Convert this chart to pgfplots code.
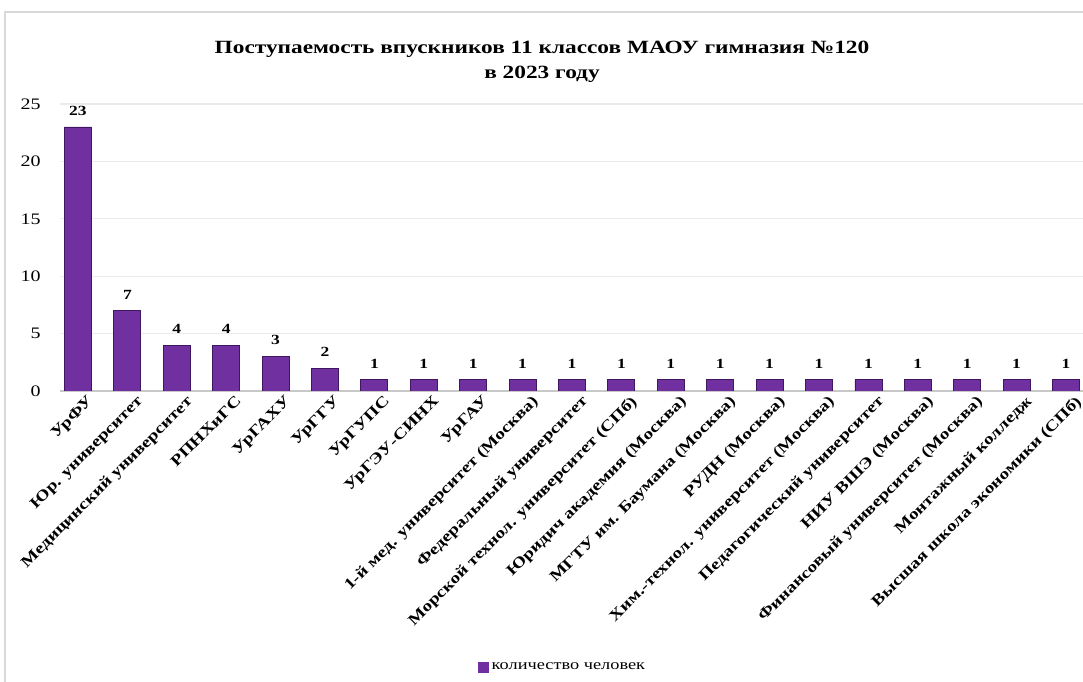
\documentclass[border=0pt]{standalone}
\usepackage{pgfplots}
\pgfplotsset{compat=1.18}
\usepackage{fontspec}
\setmainfont{Liberation Serif}[FakeStretch=1.25]
\definecolor{barfill}{HTML}{7030A0}
\definecolor{bardark}{HTML}{3E1760}
\definecolor{gridc}{HTML}{EBEBEB}
\definecolor{axisc}{HTML}{C8C8C8}
\definecolor{framec}{HTML}{D9D9D9}

\begin{document}
\begin{tikzpicture}
\useasboundingbox (0,0) rectangle (812.25pt,511.5pt);
\draw[framec, line width=1pt] (3.75pt,0) -- (3.75pt,502.5pt) -- (812.25pt,502.5pt);
\node[font=\bfseries\fontsize{14}{19}\selectfont, align=center] at (406.5pt,465pt)
  {Поступаемость впускников 11 классов МАОУ гимназия №120\\в 2023 году};
\begin{axis}[
  at={(45pt,218.25pt)}, anchor=south west,
  scale only axis, width=767.25pt, height=215.25pt,
  ymin=0, ymax=25, xmin=-0.364, xmax=20.344,
  ybar, bar width=20.25pt,
  axis x line*=bottom, axis y line*=left,
  x axis line style={draw=axisc, line width=1.5pt, -},
  y axis line style={draw=none},
  ytick={0,5,...,25},
  ymajorgrids, grid style={draw=gridc, line width=0.8pt},
  major tick length=0pt,
  yticklabel style={font=\fontsize{12}{14}\selectfont, xshift=-11pt},
  /pgf/number format/assume math mode=true,
  xtick={0,...,20},
  xticklabels={{УрФУ},{Юр. университет},{Медицинский университет},{РПНХиГС},{УрГАХУ},{УрГГУ},{УрГУПС},{УрГЭУ-СИНХ},{УрГАУ},{1-й мед. университет (Москва)},{Федеральный университет},{Морской технол. университет (СПб)},{Юридич академия (Москва)},{МГТУ им. Баумана (Москва)},{РУДН (Москва)},{Хим.-технол. университет (Москва)},{Педагогический университет},{НИУ ВШЭ (Москва)},{Финансовый университет (Москва)},{Монтажный колледж},{Высшая школа экономики (СПб)}},
  xticklabel style={rotate=45, anchor=north east, font=\bfseries\fontsize{11.5}{13}\selectfont, xshift=6pt, yshift=-3pt},
  nodes near coords,
  every node near coord/.append style={font=\bfseries\fontsize{10.5}{12}\selectfont, yshift=5pt},
  legend style={at={(0.4917,-0.962)}, anchor=center, draw=none, font=\fontsize{11}{13}\selectfont},
  legend image code/.code={\fill[barfill] (0pt,-3.8pt) rectangle (7.5pt,3.8pt);},
]
\addplot[fill=barfill, draw=bardark, line width=0.6pt] coordinates {
(0,23) (1,7) (2,4) (3,4) (4,3) (5,2) (6,1) (7,1) (8,1) (9,1) (10,1)
(11,1) (12,1) (13,1) (14,1) (15,1) (16,1) (17,1) (18,1) (19,1) (20,1)
};
\legend{количество человек}
\end{axis}
\end{tikzpicture}
\end{document}
